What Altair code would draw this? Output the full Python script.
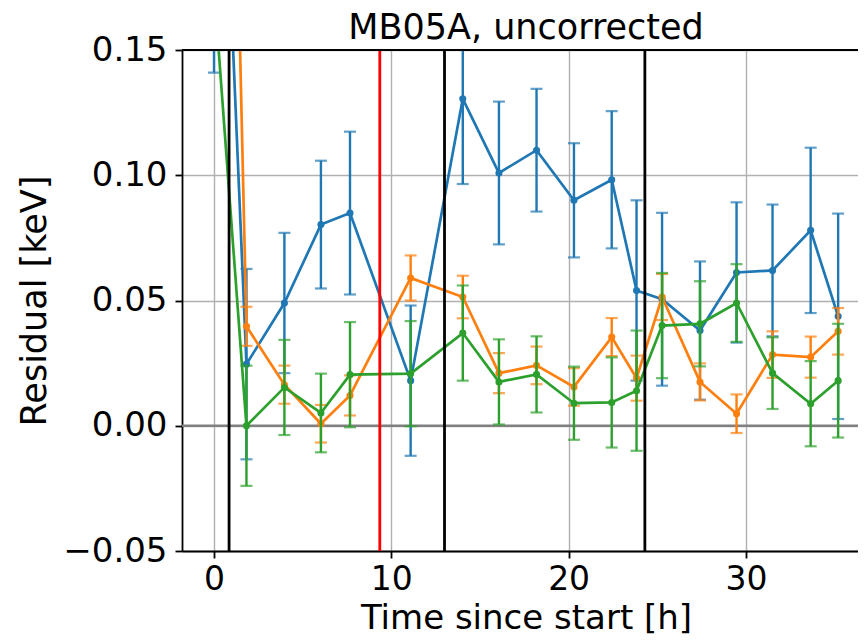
import altair as alt
import pandas as pd

# ---- data ----
times = [0.0, 1.83, 3.97, 6.03, 7.67, 11.09, 14.03, 16.07, 18.19, 20.3, 22.43,
         23.83, 25.27, 27.41, 29.47, 31.5, 33.65, 35.2]

blue_vals = [0.33, 0.0246, 0.049, 0.0803, 0.0849, 0.018, 0.1305, 0.1009, 0.110,
             0.090, 0.0982, 0.054, 0.0505, 0.038, 0.0612, 0.062, 0.078, 0.0437]
blue_errs = [0.189, 0.038, 0.028, 0.0255, 0.0325, 0.030, 0.034, 0.0285, 0.0245,
             0.0228, 0.0274, 0.036, 0.0345, 0.0276, 0.028, 0.0263, 0.033, 0.041]

orange_vals = [0.6, 0.0397, 0.0164, 0.0008, 0.0121, 0.059, 0.0514, 0.021, 0.0241,
               0.0155, 0.0354, 0.019, 0.0514, 0.0175, 0.0048, 0.0284, 0.0274, 0.0377]
orange_errs = [0.05, 0.0078, 0.0076, 0.0075, 0.008, 0.009, 0.0085, 0.008, 0.0075,
               0.0075, 0.0076, 0.009, 0.0092, 0.0074, 0.0077, 0.0093, 0.0082, 0.0093]

green_vals = [0.175, 0.0, 0.0153, 0.0051, 0.0204, 0.0208, 0.037, 0.0175, 0.0205,
              0.009, 0.0093, 0.014, 0.040, 0.0407, 0.049, 0.021, 0.0088, 0.018]
green_errs = [0.02, 0.024, 0.019, 0.0157, 0.021, 0.021, 0.019, 0.017, 0.0152,
              0.0146, 0.018, 0.024, 0.021, 0.017, 0.0155, 0.0143, 0.017, 0.0227]

series_colors = ["#1f77b4", "#ff7f0e", "#2ca02c"]

black_lines = [0.85, 13.0, 24.3]
red_lines = [9.35]

x_ticks = [0, 10, 20, 30]
y_ticks = [-0.05, 0.0, 0.05, 0.10, 0.15]

title_text = "MB05A, uncorrected"
x_title = "Time since start [h]"
y_title = "Residual [keV]"

# ---- layout ----
W, H = 676, 501
FONT = "DejaVu Sans"
x_scale = alt.Scale(domain=[-1.805, 36.32], nice=False, zero=False)
y_scale = alt.Scale(domain=[-0.05, 0.15], nice=False, zero=False)

x_axis = alt.Axis(values=x_ticks, title=x_title, titleX=344, titleY=50,
                  labelFontSize=33, labelPadding=5, titleFontSize=34)
y_axis = alt.Axis(values=y_ticks, title=y_title, titleX=-130, titleY=250.5,
                  labelExpr="replace(format(datum.value, '.2f'), '-', '\u2212')")


def X(field):
    return alt.X(f"{field}:Q", scale=x_scale, axis=x_axis, title=x_title)


def Y(field):
    return alt.Y(f"{field}:Q", scale=y_scale, axis=y_axis, title=y_title)


layers = []

# zero line
zero_df = pd.DataFrame({"v": [0.0]})
layers.append(alt.Chart(zero_df).mark_rule(color="#808080", strokeWidth=2.4).encode(y=Y("v")))

all_series = [(blue_vals, blue_errs), (orange_vals, orange_errs), (green_vals, green_errs)]
for (vals, errs), col in zip(all_series, series_colors):
    df = pd.DataFrame({
        "t": times,
        "v": vals,
        "lo": [v - e for v, e in zip(vals, errs)],
        "hi": [v + e for v, e in zip(vals, errs)],
    })
    base = alt.Chart(df)
    layers.append(base.mark_rule(color=col, strokeWidth=2.4, clip=True).encode(
        x=X("t"), y=Y("lo"), y2="hi"))
    layers.append(base.mark_tick(color=col, orient="horizontal", size=12, thickness=2.2,
                                 clip=True).encode(x=X("t"), y=Y("lo")))
    layers.append(base.mark_tick(color=col, orient="horizontal", size=12, thickness=2.2,
                                 clip=True).encode(x=X("t"), y=Y("hi")))
    layers.append(base.mark_line(color=col, strokeWidth=2.7, clip=True,
                                 point=alt.OverlayMarkDef(color=col, size=50, filled=True,
                                                          opacity=1)).encode(
        x=X("t"), y=Y("v")))

# vertical lines
layers.append(alt.Chart(pd.DataFrame({"t": black_lines})).mark_rule(
    color="black", strokeWidth=2.8).encode(x=X("t")))
layers.append(alt.Chart(pd.DataFrame({"t": red_lines})).mark_rule(
    color="#ff0000", strokeWidth=2.8).encode(x=X("t")))

# top spine
layers.append(alt.Chart(pd.DataFrame({"a": [0]})).mark_rule(color="black", strokeWidth=1.8).encode(
    x=alt.value(0), x2=alt.value(W), y=alt.value(0)))

# title
layers.append(alt.Chart(pd.DataFrame({"label": [title_text]})).mark_text(
    font=FONT, fontSize=35, color="black", align="center", baseline="alphabetic").encode(
    text="label:N", x=alt.value(344), y=alt.value(-11)))

chart = alt.layer(*layers).properties(
    width=W, height=H,
    background="white",
    autosize=alt.AutoSizeParams(type="none"),
    padding={"left": 174, "top": 42, "right": 0, "bottom": 84},
).configure_view(strokeWidth=0).configure_axis(
    labelFont=FONT, titleFont=FONT, labelFontSize=34, titleFontSize=35,
    titleFontWeight="normal", labelColor="black", titleColor="black",
    tickSize=7, tickColor="black", tickWidth=1.8,
    domainColor="black", domainWidth=1.8,
    grid=True, gridColor="#b0b0b0", gridWidth=1.4,
    labelPadding=7,
).configure_axisY(labelPadding=8)

chart.save("out.html", embed_options={"renderer": "svg", "actions": False})
